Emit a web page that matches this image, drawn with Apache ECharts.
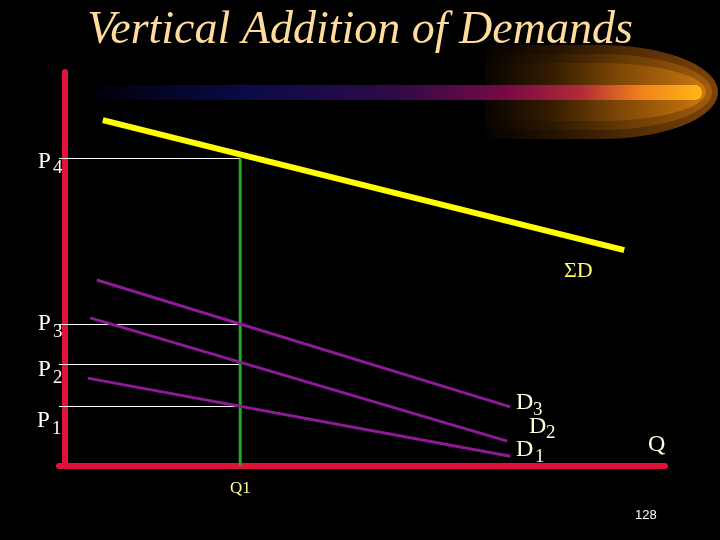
<!DOCTYPE html>
<html>
<head>
<meta charset="utf-8">
<script src="https://cdn.jsdelivr.net/npm/echarts@6/dist/echarts.min.js"></script>
<style>
  html, body { margin: 0; padding: 0; background: #000; }
  #main { width: 720px; height: 540px; }
</style>
</head>
<body>
<div id="main"></div>
<script>
// demand curves, [quantity, price] end points
var sumD = [[6.3, 87.8], [93.2, 54.8]];
var d3 = [[5.3, 47.2], [74.2, 15.0]];
var d2 = [[4.2, 37.6], [73.7, 6.3]];
var d1 = [[3.8, 22.3], [74.2, 2.5]];
var q1 = 29.2;
var prices = [15.1, 25.76, 35.91, 78.05]; // P1..P4

var serif = "Liberation Serif";

function lineSeries(data, color, width) {
  return {
    type: "line",
    data: data,
    symbol: "none",
    silent: true,
    clip: false,
    lineStyle: { color: color, width: width }
  };
}

// text with a subscript, two pieces
function subText(main, sub, x, y, sx, sy, size, subSize, color) {
  return [
    { type: "text", x: x, y: y, silent: true,
      style: { text: main, fill: color, font: size + "px " + serif, textVerticalAlign: "middle" } },
    { type: "text", x: sx, y: sy, silent: true,
      style: { text: sub, fill: color, font: subSize + "px " + serif, textVerticalAlign: "middle" } }
  ];
}

// bullet shaped glow: flat on the left, round on the right
function glow(top, bottom, rx, stops, z) {
  var ry = (bottom - top) / 2;
  var cy = (top + bottom) / 2;
  var pts = [[485, bottom], [485, top]];
  for (var i = 0; i <= 40; i++) {
    var a = -Math.PI / 2 + Math.PI * i / 40;
    pts.push([600 + rx * Math.cos(a), cy + ry * Math.sin(a)]);
  }
  return {
    type: "polygon", silent: true, z: z,
    shape: { points: pts },
    style: { fill: new echarts.graphic.LinearGradient(485, 0, 600 + rx, 0, stops, true) }
  };
}

var chart = echarts.init(document.getElementById("main"));

var series = [];
// price guide lines
prices.forEach(function(p) {
  series.push(lineSeries([[-1, p], [q1, p]], "#ffffff", 1));
});
// Q1 vertical
series.push(lineSeries([[q1, prices[3]], [q1, 0]], "#22aa22", 3));
series.push(lineSeries(d3, "#8e1a98", 3));
series.push(lineSeries(d2, "#8e1a98", 3));
series.push(lineSeries(d1, "#8e1a98", 3));
series.push(lineSeries(sumD, "#ffff00", 6));

var labels = [];
var cream = "#ffffe0";
labels = labels.concat(subText("P", "4", 38, 162, 53, 168, 23, 19, "#ffffff"));
labels = labels.concat(subText("P", "3", 38, 324, 53, 332, 23, 19, "#ffffff"));
labels = labels.concat(subText("P", "2", 38, 370, 53, 378, 23, 19, "#ffffff"));
labels = labels.concat(subText("P", "1", 37, 421, 52, 429, 23, 19, "#ffffff"));
labels = labels.concat(subText("D", "3", 516, 403, 533, 410, 24, 19, cream));
labels = labels.concat(subText("D", "2", 529, 427, 546, 433, 24, 19, cream));
labels = labels.concat(subText("D", "1", 516, 450, 535, 457, 24, 19, cream));
labels.push({ type: "text", x: 564, y: 271, silent: true,
  style: { text: "\u03a3D", fill: "#ffff66", font: "22px " + serif, textVerticalAlign: "middle" } });
labels.push({ type: "text", x: 648, y: 445, silent: true,
  style: { text: "Q", fill: cream, font: "24px " + serif, textVerticalAlign: "middle" } });
labels.push({ type: "text", x: 230, y: 489, silent: true,
  style: { text: "Q1", fill: "#ffff99", font: "17px " + serif, textVerticalAlign: "middle" } });
labels.push({ type: "text", x: 635, y: 515, silent: true,
  style: { text: "128", fill: "#ffffff", font: "13px 'Liberation Sans'", textVerticalAlign: "middle" } });

// the orange comet in the header
var deco = [
  glow(45, 139, 118, [
    { offset: 0, color: "#040200" },
    { offset: 0.3, color: "#241300" },
    { offset: 0.6, color: "#4e2a04" },
    { offset: 1, color: "#7e4408" }
  ], -3),
  glow(54, 130, 112, [
    { offset: 0, color: "#060300" },
    { offset: 0.3, color: "#2c1800" },
    { offset: 0.6, color: "#643804" },
    { offset: 1, color: "#a45c0c" }
  ], -2),
  glow(63, 121, 106, [
    { offset: 0, color: "#080400" },
    { offset: 0.3, color: "#341c00" },
    { offset: 0.6, color: "#7c4606" },
    { offset: 1, color: "#cc7810" }
  ], -1),
  { type: "rect", silent: true,
    shape: { x: 92, y: 85, width: 610, height: 15, r: 7 },
    style: { fill: new echarts.graphic.LinearGradient(0, 0, 1, 0, [
      { offset: 0, color: "#000008" },
      { offset: 0.25, color: "#0a0a48" },
      { offset: 0.5, color: "#300a48" },
      { offset: 0.68, color: "#780a44" },
      { offset: 0.8, color: "#b02a38" },
      { offset: 0.9, color: "#f08218" },
      { offset: 1, color: "#ffb818" }
    ]) } }
];

var option = {
  backgroundColor: "#000000",
  animation: false,
  title: {
    text: "Vertical Addition of Demands",
    left: "center",
    top: 3,
    textStyle: {
      color: "#ffdb9c",
      fontFamily: serif,
      fontStyle: "italic",
      fontWeight: "normal",
      fontSize: 46
    }
  },
  grid: { left: 59, top: 72, width: 606, height: 394 },
  xAxis: {
    type: "value",
    min: -1,
    max: 100,
    axisLine: { show: true, onZero: true, lineStyle: { color: "#e0123c", width: 6 } },
    axisTick: { show: false },
    axisLabel: { show: false },
    splitLine: { show: false }
  },
  yAxis: {
    type: "value",
    min: 0,
    max: 100,
    axisLine: { show: true, onZero: true, lineStyle: { color: "#e0123c", width: 6 } },
    axisTick: { show: false },
    axisLabel: { show: false },
    splitLine: { show: false }
  },
  graphic: deco.concat(labels),
  series: series
};

chart.setOption(option);
</script>
</body>
</html>
